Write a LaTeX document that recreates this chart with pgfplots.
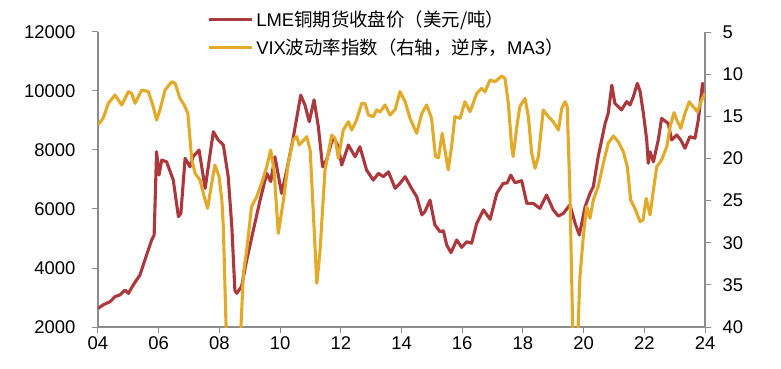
\documentclass[border=0pt]{standalone}
\usepackage{pgfplots}
\pgfplotsset{compat=1.18}
\usepackage{fontspec}
\setmainfont{Liberation Sans}
\newfontfamily\cjk{Noto Sans CJK SC}
\definecolor{cured}{RGB}{170,56,60}
\definecolor{vixgold}{RGB}{226,170,42}
\definecolor{axgray}{RGB}{140,140,140}

\pgfplotstableread{
x y
2004.00 2630
2004.17 2750
2004.40 2860
2004.56 3030
2004.72 3085
2004.89 3250
2005.00 3140
2005.16 3420
2005.38 3760
2005.60 4440
2005.77 4950
2005.85 5120
2005.93 7940
2006.01 7150
2006.10 7660
2006.26 7600
2006.48 6980
2006.65 5740
2006.73 5850
2006.87 7720
2007.03 7430
2007.13 7770
2007.33 8000
2007.53 6700
2007.80 8620
2007.96 8340
2008.13 8170
2008.29 7095
2008.41 5400
2008.51 3250
2008.57 3140
2008.73 3370
2008.90 4270
2009.12 5290
2009.34 6300
2009.56 7210
2009.69 6930
2009.83 7770
2010.05 6530
2010.22 7320
2010.43 8400
2010.68 9860
2010.82 9520
2010.96 8960
2011.12 9700
2011.26 8790
2011.40 7430
2011.53 7660
2011.75 8450
2011.92 8110
2012.03 7490
2012.25 8170
2012.47 7770
2012.63 8110
2012.85 7320
2013.07 6980
2013.24 7210
2013.40 7095
2013.57 7260
2013.79 6700
2013.95 6870
2014.12 7095
2014.33 6700
2014.50 6420
2014.67 5800
2014.77 5910
2014.94 6300
2015.10 5460
2015.27 5230
2015.38 5260
2015.49 4780
2015.63 4520
2015.82 4950
2015.98 4700
2016.15 4890
2016.31 4840
2016.48 5515
2016.70 5970
2016.92 5650
2017.14 6530
2017.35 6870
2017.48 6880
2017.60 7150
2017.74 6890
2017.96 6960
2018.13 6190
2018.34 6190
2018.56 6020
2018.78 6475
2019.00 5970
2019.17 5760
2019.33 5850
2019.55 6140
2019.72 5515
2019.86 5120
2020.05 6080
2020.21 6530
2020.32 6760
2020.48 7770
2020.71 8905
2020.81 9240
2020.93 10200
2021.03 9580
2021.25 9360
2021.42 9640
2021.53 9525
2021.64 9810
2021.77 10260
2021.86 10000
2021.97 9240
2022.08 8340
2022.13 7550
2022.19 7940
2022.30 7600
2022.46 8340
2022.57 9070
2022.79 8900
2022.90 8340
2023.07 8510
2023.20 8340
2023.34 8060
2023.50 8450
2023.67 8400
2023.78 9020
2023.92 10260
2024.00 9920
}\copper

\pgfplotstableread{
x y
2004.00 16.00
2004.17 15.24
2004.34 13.46
2004.56 12.47
2004.78 13.66
2005.00 12.08
2005.11 12.30
2005.22 13.46
2005.44 11.88
2005.66 12.08
2005.82 13.86
2005.93 15.44
2006.04 14.25
2006.21 11.88
2006.43 10.90
2006.54 11.09
2006.70 12.87
2006.84 13.66
2006.96 14.65
2007.09 20.19
2007.20 21.77
2007.36 22.56
2007.47 24.14
2007.61 25.92
2007.72 23.55
2007.85 20.78
2007.99 22.17
2008.08 24.93
2008.13 28.10
2008.22 40.00
2008.32 50.00
2008.45 55.00
2008.60 50.00
2008.71 40.00
2008.79 33.63
2008.90 30.86
2009.06 25.72
2009.23 24.53
2009.39 22.95
2009.56 20.98
2009.69 19.00
2009.80 21.37
2009.94 28.89
2010.11 24.93
2010.27 20.58
2010.43 17.81
2010.55 17.42
2010.63 18.41
2010.88 17.42
2010.99 19.00
2011.09 26.12
2011.21 34.82
2011.31 31.26
2011.48 21.37
2011.70 17.22
2011.81 17.60
2011.92 19.99
2012.08 16.63
2012.25 15.64
2012.36 16.63
2012.52 15.44
2012.69 13.46
2012.80 13.50
2012.91 14.85
2013.07 15.04
2013.18 14.25
2013.29 14.50
2013.46 13.66
2013.62 14.85
2013.79 14.20
2013.95 12.08
2014.12 13.27
2014.28 15.24
2014.50 17.02
2014.67 14.65
2014.83 13.66
2014.99 15.24
2015.12 19.79
2015.22 19.90
2015.34 17.02
2015.43 19.00
2015.54 21.37
2015.65 18.60
2015.76 15.04
2015.93 15.24
2016.09 13.27
2016.26 14.45
2016.48 12.28
2016.64 11.68
2016.75 12.10
2016.92 10.69
2017.08 10.90
2017.30 10.22
2017.41 10.50
2017.52 13.46
2017.63 18.60
2017.68 19.79
2017.80 16.23
2017.90 13.86
2018.07 12.87
2018.18 15.04
2018.29 19.40
2018.40 21.17
2018.51 19.79
2018.67 14.25
2018.84 15.04
2019.00 15.64
2019.17 16.63
2019.28 14.06
2019.39 13.27
2019.46 13.86
2019.55 24.14
2019.64 40.00
2019.70 50.00
2019.76 45.00
2019.82 40.00
2019.88 34.03
2019.99 29.28
2020.10 25.72
2020.21 27.10
2020.32 24.93
2020.48 23.35
2020.65 20.58
2020.81 18.20
2020.98 17.34
2021.14 18.01
2021.31 19.20
2021.44 20.98
2021.55 24.93
2021.69 25.92
2021.86 27.50
2021.96 27.30
2022.06 24.73
2022.19 26.71
2022.30 23.75
2022.41 20.98
2022.57 20.19
2022.74 18.60
2022.85 16.23
2022.98 14.57
2023.08 15.50
2023.20 16.43
2023.34 14.65
2023.48 13.27
2023.61 13.86
2023.75 14.46
2023.89 13.07
2024.00 12.28
}\vix

\pgfplotsset{
  common/.style={
    width=607bp, height=295bp, scale only axis,
    xmin=2004, xmax=2024,
    axis line style={axgray, line width=1.2bp},
    tick style={axgray, line width=1bp},
    major tick length=6bp,
    tick align=outside,
    tick label style={font=\fontsize{18.5}{20}\selectfont, black},
    /pgf/number format/assume math mode=true,
    /pgf/number format/1000 sep={},
    scaled y ticks=false,
  }
}

\begin{document}
\begin{tikzpicture}
\path[use as bounding box] (-98bp,-42bp) rectangle (683bp,327bp);
\begin{axis}[common,
  ymin=2000, ymax=12000, ytick={2000,4000,...,12000},
  axis x line*=bottom, axis y line*=left,
  yticklabel style={xshift=-13bp},
  xtick={2004,2006,...,2024},
  xticklabels={04,06,08,10,12,14,16,18,20,22,24},
]
\addplot[cured, line width=3.1bp, line join=round] table[x=x,y=y] {\copper};
\end{axis}
\begin{axis}[common,
  ymin=5, ymax=40, y dir=reverse, ytick={5,10,...,40},
  axis y line*=right, axis x line=none,
  yticklabel style={xshift=8bp},
  legend style={at={(rel axis cs:0.1746,1.095)}, anchor=north west, draw=none, fill=none,
    font=\fontsize{18.5}{20}\selectfont, row sep=0bp,
    nodes={inner xsep=3bp, inner ysep=5bp}},
  legend cell align=left,
  legend image code/.code={\draw[#1] (0bp,0bp) -- (43bp,0bp);},
]
\addlegendimage{cured, line width=3.1bp}
\addlegendentry{LME{\cjk 铜期货收盘价（美元/吨）}}
\addplot[vixgold, line width=3.1bp, line join=round] table[x=x,y=y] {\vix};
\addlegendentry{VIX{\cjk 波动率指数（右轴，逆序，}MA3{\cjk ）}}
\end{axis}
\end{tikzpicture}
\end{document}
